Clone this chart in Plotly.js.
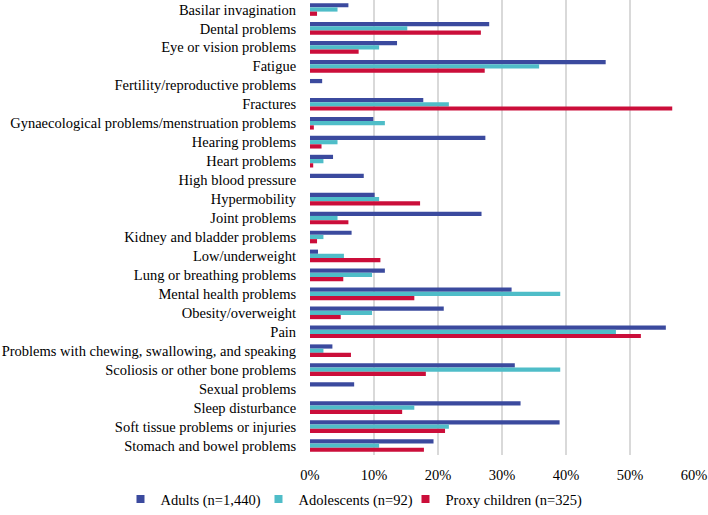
<!DOCTYPE html>
<html>
<head>
<meta charset="utf-8">
<script src="https://cdn.plot.ly/plotly-3.0.1.min.js"></script>
<style>html,body{margin:0;padding:0;background:#fff;}#chart{width:708px;height:515px;}</style>
</head>
<body>
<div id="chart"></div>
<script>
const categories = [
  "Basilar invagination",
  "Dental problems",
  "Eye or vision problems",
  "Fatigue",
  "Fertility/reproductive problems",
  "Fractures",
  "Gynaecological problems/menstruation problems",
  "Hearing problems",
  "Heart problems",
  "High blood pressure",
  "Hypermobility",
  "Joint problems",
  "Kidney and bladder problems",
  "Low/underweight",
  "Lung or breathing problems",
  "Mental health problems",
  "Obesity/overweight",
  "Pain",
  "Problems with chewing, swallowing, and speaking",
  "Scoliosis or other bone problems",
  "Sexual problems",
  "Sleep disturbance",
  "Soft tissue problems or injuries",
  "Stomach and bowel problems"
];
const adults =      [6.0, 28.0, 13.6, 46.2, 1.9, 17.7, 9.9, 27.4, 3.6, 8.4, 10.1, 26.8, 6.5, 1.25, 11.7, 31.5, 20.9, 55.6, 3.5, 32.0, 6.9, 32.9, 39.0, 19.3];
const adolescents = [4.3, 15.2, 10.8, 35.8, 0, 21.7, 11.7, 4.3, 2.1, 0, 10.8, 4.3, 2.1, 5.3, 9.7, 39.1, 9.7, 47.8, 2.1, 39.1, 0, 16.3, 21.7, 10.8];
const proxyChildren = [1.1, 26.7, 7.6, 27.3, 0, 56.6, 0.6, 1.8, 0.5, 0, 17.2, 6.0, 1.1, 11.0, 5.2, 16.3, 4.8, 51.7, 6.4, 18.1, 0, 14.4, 21.1, 17.8];
const seriesNames = ["Adults (n=1,440)", "Adolescents (n=92)", "Proxy children (n=325)"];
const xTickVals = [0, 0.1, 0.2, 0.3, 0.4, 0.5, 0.6];
const colors = ["#3B4A9E", "#4FBDC8", "#CB0E3A"];
const legendWidths = [93, 102, 140];

const toFrac = a => a.map(v => v / 100);
const bars = [adults, adolescents, proxyChildren].map((vals, i) => ({
  type: "bar",
  orientation: "h",
  name: seriesNames[i],
  y: categories,
  x: toFrac(vals),
  marker: {color: colors[i]},
  showlegend: false,
  hoverinfo: "x+y"
}));
// legend-only entries with small square swatches
const legendEntries = seriesNames.map((n, i) => ({
  type: "scatter",
  mode: "markers",
  name: n,
  x: [null],
  y: [null],
  marker: {symbol: "square", size: 8, color: colors[i]},
  legendwidth: legendWidths[i],
  showlegend: true
}));

const FONT = "Liberation Serif";
const layout = {
  width: 708, height: 515,
  margin: {l: 310, r: 14, t: 0, b: 58},
  barmode: "group",
  bargap: 0.33,
  bargroupgap: 0,
  font: {family: FONT, size: 14.5, color: "#000"},
  paper_bgcolor: "#fff",
  plot_bgcolor: "#fff",
  xaxis: {
    range: [0, 0.6],
    tickvals: xTickVals,
    tickformat: ".0%",
    showgrid: true,
    gridcolor: "#d9d9d9",
    gridwidth: 1.5,
    zeroline: false,
    showline: false,
    ticks: "outside",
    ticklen: 7,
    tickcolor: "rgba(0,0,0,0)",
    tickfont: {family: FONT, size: 14.5},
    automargin: false,
    fixedrange: true
  },
  yaxis: {
    autorange: "reversed",
    showgrid: false,
    zeroline: false,
    showline: false,
    ticks: "outside",
    ticklen: 10,
    tickcolor: "rgba(0,0,0,0)",
    tickfont: {family: FONT, size: 14.5},
    automargin: false,
    fixedrange: true
  },
  showlegend: true,
  legend: {
    orientation: "h",
    xref: "paper", yref: "paper",
    x: -0.4935, xanchor: "left",
    y: -0.062, yanchor: "top",
    font: {family: FONT, size: 14.5},
    itemwidth: 30,
    traceorder: "normal",
    bgcolor: "rgba(0,0,0,0)"
  }
};

Plotly.newPlot("chart", bars.concat(legendEntries), layout, {displayModeBar: false, staticPlot: true});
</script>
</body>
</html>
